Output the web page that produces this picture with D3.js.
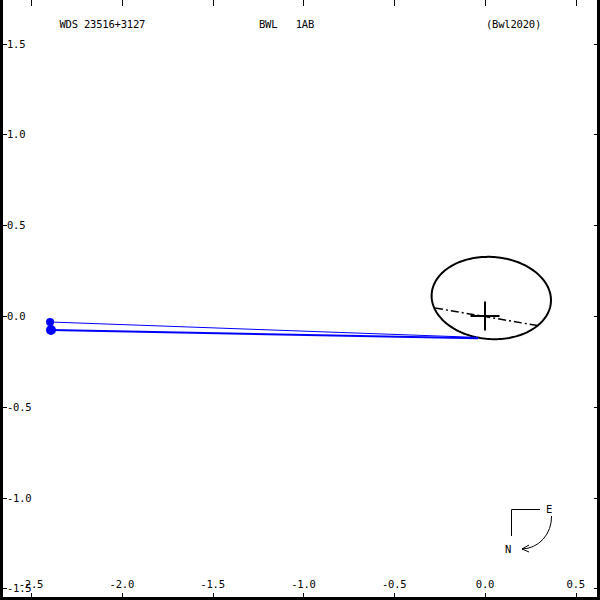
<!DOCTYPE html>
<html>
<head>
<meta charset="utf-8">
<script src="https://cdn.jsdelivr.net/npm/d3@7"></script>
<style>
  html, body { margin: 0; padding: 0; background: #fff; }
  svg { display: block; }
  text { font-family: "DejaVu Sans Mono", "Liberation Mono", monospace; font-size: 10.5px; fill: #000; letter-spacing: -0.2px; }
</style>
</head>
<body>
<svg id="chart" width="600" height="600"></svg>
<script>
// ---- data ----
const xTicks = [-2.5, -2.0, -1.5, -1.0, -0.5, 0.0, 0.5];
const yTicks = [-1.5, -1.0, -0.5, 0.0, 0.5, 1.0, 1.5];
const titleTexts = ["WDS 23516+3127", "BWL   1AB", "(Bwl2020)"];
// measured positions (arcsec) and predicted positions on orbit
const measX = [-2.395, -2.390];
const measY = [-0.033, -0.077];
const predX = [-0.0385, -0.0385];
const predY = [-0.118, -0.1225];
const measRadius = [4, 5];
const measWidth = [1, 2];
// apparent orbit ellipse
const orbitCenter = [0.0347, 0.0991];
const orbitSemiAxes = [0.329, 0.226];
const orbitTiltDeg = -4;
// line of nodes
const nodesX = [-0.275, 0.303];
const nodesY = [0.044, -0.055];
// primary marker half size
const crossHalf = 0.08;

// ---- scales ----
const W = 600, H = 600;
const pxPerUnit = 181.6;
const x0 = 485, y0 = 316;
const x = d3.scaleLinear().domain([-2.5, 0.5]).range([x0 - 2.5 * pxPerUnit, x0 + 0.5 * pxPerUnit]);
const y = d3.scaleLinear().domain([-1.5, 1.5]).range([y0 + 1.5 * pxPerUnit, y0 - 1.5 * pxPerUnit]);
const fmt = v => v.toFixed(1);

const svg = d3.select("#chart");
svg.append("rect").attr("width", W).attr("height", H).attr("fill", "#fff");

// frame (left, bottom, right)
svg.append("path")
  .attr("d", `M1.5,0 L1.5,598.5 L598.5,598.5 L598.5,0`)
  .attr("fill", "none").attr("stroke", "#000").attr("stroke-width", 3);

// bottom ticks + labels
svg.append("g").selectAll("line").data(xTicks).join("line")
  .attr("x1", d => Math.round(x(d)) + 0.5).attr("x2", d => Math.round(x(d)) + 0.5)
  .attr("y1", 597).attr("y2", 593).attr("stroke", "#000").attr("stroke-width", 1);
svg.append("g").selectAll("text").data(xTicks).join("text")
  .attr("x", d => x(d)).attr("y", 587.5).attr("text-anchor", "middle").text(fmt);
// top ticks
svg.append("g").selectAll("line").data(xTicks).join("line")
  .attr("x1", d => Math.round(x(d)) + 0.5).attr("x2", d => Math.round(x(d)) + 0.5)
  .attr("y1", 0).attr("y2", 6).attr("stroke", "#000").attr("stroke-width", 1);
// left ticks + labels
svg.append("g").selectAll("line").data(yTicks).join("line")
  .attr("x1", 3).attr("x2", 7)
  .attr("y1", d => Math.round(y(d)) + 0.5).attr("y2", d => Math.round(y(d)) + 0.5)
  .attr("stroke", "#000").attr("stroke-width", 1);
svg.append("g").selectAll("text").data(yTicks).join("text")
  .attr("x", 7).attr("y", d => y(d) + 4).attr("text-anchor", "start").text(fmt);
// right ticks
svg.append("g").selectAll("line").data(yTicks).join("line")
  .attr("x1", 594).attr("x2", 597)
  .attr("y1", d => Math.round(y(d)) + 0.5).attr("y2", d => Math.round(y(d)) + 0.5)
  .attr("stroke", "#000").attr("stroke-width", 1);

// titles
const titleX = [59.5, 259, 486];
svg.append("g").selectAll("text").data(titleTexts).join("text")
  .attr("x", (d, i) => titleX[i]).attr("y", 28).attr("xml:space", "preserve")
  .style("white-space", "pre").text(d => d);

// orbit ellipse
const phi = orbitTiltDeg * Math.PI / 180;
const ts = d3.range(0, 361, 2).map(t => t * Math.PI / 180);
const orbitPts = ts.map(t => {
  const ex = orbitSemiAxes[0] * Math.cos(t), ey = orbitSemiAxes[1] * Math.sin(t);
  return [orbitCenter[0] + ex * Math.cos(phi) - ey * Math.sin(phi),
          orbitCenter[1] + ex * Math.sin(phi) + ey * Math.cos(phi)];
});
svg.append("path")
  .attr("d", d3.line().x(d => x(d[0])).y(d => y(d[1])).curve(d3.curveLinearClosed)(orbitPts))
  .attr("fill", "none").attr("stroke", "#000").attr("stroke-width", 2);

// line of nodes (dash-dot)
svg.append("line")
  .attr("x1", x(nodesX[0])).attr("y1", y(nodesY[0]))
  .attr("x2", x(nodesX[1])).attr("y2", y(nodesY[1]))
  .attr("stroke", "#000").attr("stroke-width", 1.5).attr("stroke-dasharray", "8,3,2,3");

// primary cross
svg.append("line").attr("x1", x(-crossHalf)).attr("x2", x(crossHalf)).attr("y1", y(0)).attr("y2", y(0))
  .attr("stroke", "#000").attr("stroke-width", 2);
svg.append("line").attr("x1", x(0)).attr("x2", x(0)).attr("y1", y(-crossHalf)).attr("y2", y(crossHalf))
  .attr("stroke", "#000").attr("stroke-width", 2);

// residual lines and measurements
const meas = measX.map((d, i) => ({mx: d, my: measY[i], px: predX[i], py: predY[i], r: measRadius[i], w: measWidth[i]}));
svg.append("g").selectAll("line").data(meas).join("line")
  .attr("x1", d => x(d.mx)).attr("y1", d => y(d.my))
  .attr("x2", d => x(d.px)).attr("y2", d => y(d.py))
  .attr("stroke", "#0000ff").attr("stroke-width", d => d.w);
svg.append("g").selectAll("circle").data(meas).join("circle")
  .attr("cx", d => x(d.mx)).attr("cy", d => y(d.my)).attr("r", d => d.r)
  .attr("fill", "#0000ff");

// compass
const cg = svg.append("g").attr("fill", "none").attr("stroke", "#000").attr("stroke-width", 1);
cg.append("path").attr("d", "M540,509.5 L511.5,509.5 L511.5,536");
cg.append("path").attr("d", "M551.5,516 A30,32 0 0 1 522,549");
cg.append("path").attr("d", "M529,545 L522,549 L529,552");
svg.append("text").attr("x", 549).attr("y", 513).attr("text-anchor", "middle").text("E");
svg.append("text").attr("x", 508).attr("y", 553).attr("text-anchor", "middle").text("N");
</script>
</body>
</html>
